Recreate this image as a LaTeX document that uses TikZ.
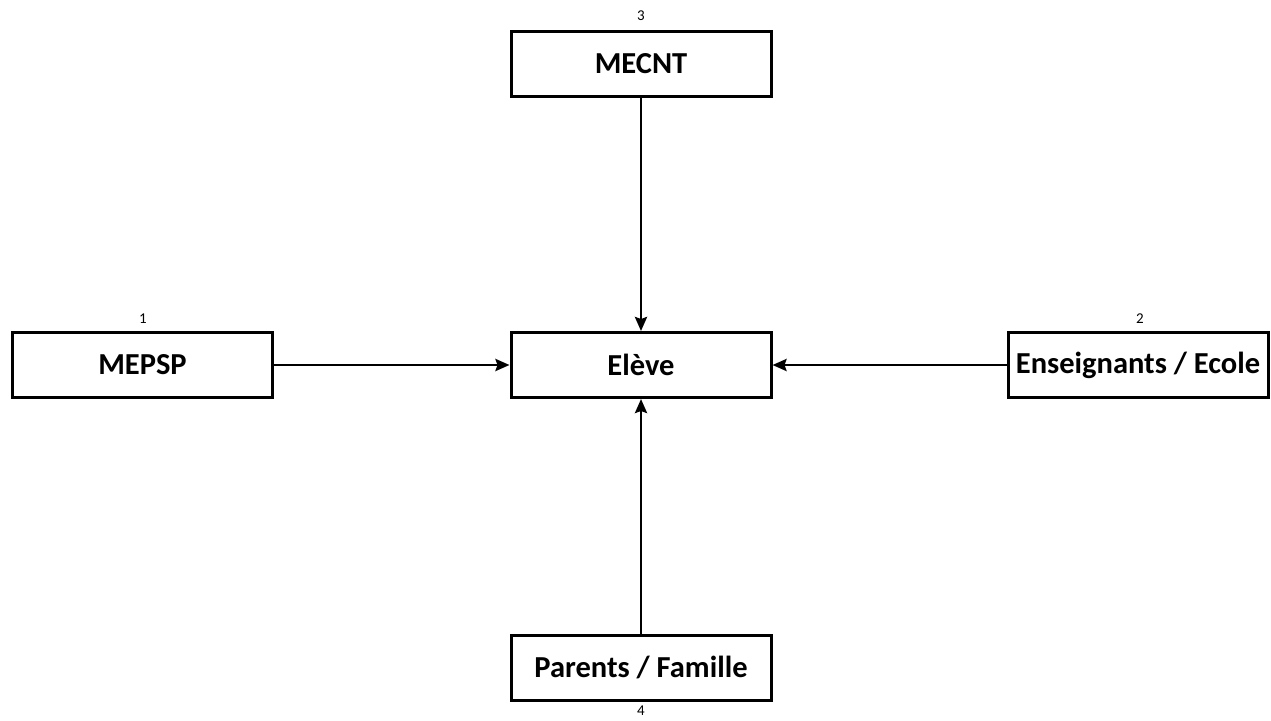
\documentclass[tikz,border=0pt]{standalone}
\usepackage{fontspec}
\setmainfont{Carlito}
\usetikzlibrary{arrows.meta}

\begin{document}
\begin{tikzpicture}[x=1pt,y=1pt,yscale=-1,xscale=1,
  actor/.style={draw,line width=3pt,minimum width=260pt,minimum height=65pt,inner sep=0pt,
    font=\fontsize{30.5}{35}\selectfont\bfseries},
  num/.style={inner sep=0.75pt,font=\fontsize{15}{17}\selectfont},
  flow/.style={line width=2.8pt,-{Stealth[length=14pt,width=12pt,inset=2pt]}}]
%set diagram size
\useasboundingbox (0,0) rectangle (1271,720);

% Boxes
\node [actor] (eleve) at (641,365) {Elève};
\node [actor] (mecnt) at (641,64) {MECNT};
\node [actor] (mepsp) at (142.5,365) {MEPSP};
\node [actor] (ecole) at (1138,365) {Enseignants / Ecole};
\node [actor] (famille) at (641,667.5) {Parents / Famille};

% Text Node
\node [num] (n1) at (143,319) {1};
% Text Node
\node [num] (n2) at (1140,319) {2};
% Text Node
\node [num] (n3) at (641,16) {3};
% Text Node
\node [num] (n4) at (641,710.5) {4};

% Arrows
\draw [flow] (mepsp) -- (eleve);
\draw [flow] (ecole) -- (eleve);
\draw [flow] (mecnt) -- (eleve);
\draw [flow] (famille) -- (eleve);

\end{tikzpicture}
\end{document}
